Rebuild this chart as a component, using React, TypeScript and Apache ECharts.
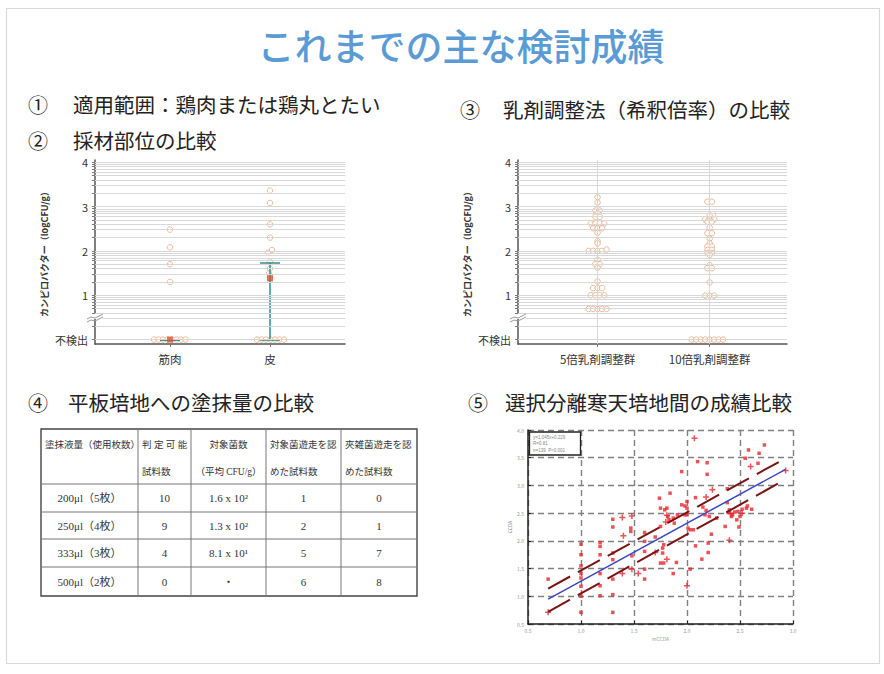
import React, { useEffect, useRef } from "react";
import * as echarts from "echarts";

// ---------- texts ----------
const titleText = "これまでの主な検討成績";
const headingNumbers = ["①", "②", "③", "④", "⑤"];
const headingTexts = [
  "適用範囲：鶏肉または鶏丸とたい",
  "採材部位の比較",
  "乳剤調整法（希釈倍率）の比較",
  "平板培地への塗抹量の比較",
  "選択分離寒天培地間の成績比較",
];
const yAxisName = "カンピロバクター（logCFU/g）";
const notDetectedLabel = "不検出";
const yTickValues = [0, 1, 2, 3, 4];
// minor (log) grid levels within one decade
const minorGridLevels = [0, 0.301, 0.477, 0.602, 0.699, 0.778, 0.845, 0.903, 0.954];

// ---------- ② 採材部位の比較 ----------
const siteCategories = ["筋肉", "皮"];
const musclePoints: number[][] = [
  [1, 2.48], [1, 2.08], [1, 1.7], [1, 1.3],
  [0.84, 0], [0.885, 0], [0.93, 0], [0.975, 0], [1.02, 0], [1.065, 0], [1.11, 0], [1.155, 0],
];
const skinPoints: number[][] = [
  [2, 3.36], [2, 3.08], [2, 2.6], [2, 2.3], [2.02, 2.02], [1.98, 1.96], [2, 1.76], [2, 1.6],
  [1.99, 1.49], [2, 1.43], [2, 1.39],
  [1.87, 0], [1.915, 0], [1.96, 0], [2.005, 0], [2.05, 0], [2.095, 0], [2.14, 0],
];
const siteMeans: number[][] = [[1, 0], [2, 1.38]];
// [x, low, high]
const siteErrors: number[][] = [[1, 0, 0], [2, 0, 1.74]];

// ---------- ③ 乳剤調整法 ----------
const dilutionCategories = ["5倍乳剤調整群", "10倍乳剤調整群"];
const fiveFoldPoints: number[][] = [
  [1, 3.21], [1, 3.09],
  [0.98, 2.91], [1.02, 2.91], [1.0, 2.85],
  [0.98, 2.77], [1.02, 2.77],
  [0.94, 2.62], [0.98, 2.62], [1.02, 2.62], [1.06, 2.62],
  [0.96, 2.51], [1.0, 2.51], [1.04, 2.51],
  [1, 2.41], [1, 2.22], [1, 2.17],
  [0.92, 2.0], [0.96, 2.0], [1.0, 2.0], [1.04, 2.0], [1.08, 2.03],
  [1, 1.8], [0.98, 1.7], [1.02, 1.7], [1, 1.62],
  [1, 1.31],
  [0.96, 1.16], [1.0, 1.16], [1.04, 1.16],
  [0.94, 1.0], [0.98, 1.0], [1.02, 1.0], [1.06, 1.0],
  [0.92, 0.69], [0.96, 0.69], [1.0, 0.69], [1.04, 0.69], [1.08, 0.69],
];
const tenFoldPoints: number[][] = [
  [1.98, 3.11], [2.02, 3.11],
  [2.03, 2.83], [2.0, 2.79],
  [1.96, 2.71], [2.0, 2.71], [2.04, 2.71],
  [1.98, 2.66], [2.02, 2.66],
  [2, 2.53], [1.98, 2.4], [2.02, 2.4], [2, 2.28], [2, 2.17],
  [1.98, 2.1], [2.02, 2.1], [1.98, 2.02], [2.02, 2.02],
  [1.98, 1.95], [2.02, 1.95], [2, 1.91],
  [2, 1.68], [1.98, 1.61], [2.02, 1.61],
  [2, 1.29],
  [1.96, 0.99], [2.0, 0.99], [2.04, 0.99],
  [1.84, 0], [1.88, 0], [1.92, 0], [1.96, 0], [2.0, 0], [2.04, 0], [2.08, 0], [2.12, 0],
];

// ---------- ④ 塗抹量の比較 (table) ----------
const tableHeaderLine1 = ["塗抹液量（使用枚数）", "判 定 可 能", "対象菌数", "対象菌遊走を認", "夾雑菌遊走を認"];
const tableHeaderLine2 = ["", "試料数", "（平均 CFU/g）", "めた試料数", "めた試料数"];
const tableVolumes = ["200μl（5枚）", "250μl（4枚）", "333μl（3枚）", "500μl（2枚）"];
const tableJudgeable = ["10", "9", "4", "0"];
const tableMeanCfu = ["1.6 x 10²", "1.3 x 10²", "8.1 x 10¹", "・"];
const tableTargetSwarm = ["1", "2", "5", "6"];
const tableContamSwarm = ["0", "1", "7", "8"];

// ---------- ⑤ 選択分離寒天培地間の成績比較 ----------
const scatterSquares: number[][] = [
  [0.69, 1.31], [1.0, 1.94], [1.0, 1.75], [1.0, 1.55], [1.0, 1.41], [1.0, 1.33], [1.0, 1.18], [1.0, 1.0], [1.0, 0.71],
  [1.18, 1.97], [1.18, 1.9], [1.18, 1.75], [1.18, 1.41], [1.18, 1.19], [1.18, 1.01],
  [1.3, 2.39], [1.3, 2.25], [1.3, 1.78], [1.3, 1.66], [1.3, 1.31], [1.3, 1.03], [1.3, 0.71],
  [1.47, 2.23], [1.47, 2.17], [1.48, 1.73],
  [1.6, 2.15], [1.6, 1.99], [1.6, 1.81], [1.6, 1.49], [1.6, 1.31],
  [1.7, 2.07],
  [1.74, 2.77], [1.75, 2.59], [1.79, 2.56], [1.81, 2.59], [1.82, 2.44], [1.83, 2.38], [1.87, 2.41], [1.91, 2.47], [1.88, 2.32], [1.75, 2.26],
  [1.78, 1.93], [1.77, 1.87], [1.77, 1.78], [1.75, 1.6], [1.78, 1.6], [1.9, 1.61], [1.87, 1.41],
  [1.84, 2.86], [1.95, 3.25], [1.95, 2.65], [1.98, 2.63], [2.0, 2.59], [2.0, 2.71], [2.0, 2.47], [1.98, 2.47],
  [2.01, 2.23], [2.03, 2.2], [2.06, 2.2],
  [2.03, 1.49], [2.08, 1.91], [2.14, 1.67], [2.2, 1.79], [2.2, 1.96], [2.23, 2.12],
  [2.08, 2.78], [2.1, 3.43], [2.19, 3.41], [2.19, 3.2], [2.15, 2.61], [2.18, 2.55], [2.17, 2.47], [2.21, 2.44], [2.28, 2.41],
  [2.38, 2.94], [2.36, 2.26], [2.49, 2.25], [2.5, 2.44], [2.47, 2.38], [2.56, 2.59], [2.57, 2.63], [2.61, 2.57],
  [2.43, 2.47], [2.4, 2.56], [2.39, 2.51], [2.42, 2.44], [2.45, 2.52], [2.48, 2.53], [2.52, 2.57], [2.38, 2.69],
  [2.58, 3.64], [2.55, 3.49], [2.67, 3.4], [2.68, 3.58], [2.73, 3.73],
];
const scatterPluses: number[][] = [
  [0.69, 0.71], [1.39, 2.42], [1.4, 2.09], [1.39, 1.41], [1.48, 2.45], [1.48, 1.49], [1.54, 1.41],
  [1.7, 1.79], [1.81, 1.67], [1.81, 2.46], [1.8, 2.34], [2.0, 1.19], [2.07, 3.85], [2.18, 2.79],
  [2.24, 2.92], [2.4, 2.01], [2.41, 2.5], [2.52, 2.5], [2.6, 3.34], [2.93, 3.27],
];
const regressionLine: number[][] = [[0.69, 0.95], [2.93, 3.29]];
const upperBandLine: number[][] = [[0.69, 1.14], [2.93, 3.49]];
const lowerBandLine: number[][] = [[0.69, 0.72], [2.93, 3.11]];
const scatterXName = "mCCDA";
const scatterYName = "CCDA";
const scatterLegendLines = ["y=1.045x+0.229", "R=0.81", "n=139  P<0.001"];

const JP = "'Noto Sans CJK JP', 'Noto Sans', sans-serif";
const SERIF = "'Liberation Serif', 'DejaVu Serif', 'Noto Sans CJK JP', serif";

function buildGridLevels(): number[] {
  const out: number[] = [];
  for (let k = 0; k < 4; k++) minorGridLevels.forEach((m) => out.push(+(k + m).toFixed(3)));
  out.push(4);
  return out;
}

export default function App() {
  const ref = useRef<HTMLDivElement>(null);

  useEffect(() => {
    document.body.style.margin = "0";
    const chart = echarts.init(ref.current!, undefined, { renderer: "svg" });
    const gridLevels = buildGridLevels();

    const circleStyle = { color: "#ffffff", borderColor: "#eea878", borderWidth: 1 };

    const stripYAxis = (gridIndex: number) => ({
      gridIndex,
      type: "value",
      min: -0.1,
      max: 4.05,
      splitLine: { show: false },
      axisLine: { show: true, lineStyle: { color: "#555", width: 1.5 } },
      axisTick: { show: true, customValues: gridLevels, length: 3, lineStyle: { color: "#777" } },
      axisLabel: {
        customValues: yTickValues,
        formatter: (v: number) => (v === 0 ? notDetectedLabel : String(v)),
        fontSize: 11,
        color: "#333",
        margin: 7,
        fontFamily: JP,
      },
      name: yAxisName,
      nameLocation: "middle",
      nameGap: 46,
      nameRotate: 90,
      nameTextStyle: { fontSize: 9, fontWeight: "bold", color: "#333", fontFamily: JP },
    });

    const stripXAxis = (gridIndex: number, min: number, max: number, cats: string[]) => ({
      gridIndex,
      type: "value",
      min,
      max,
      splitLine: { show: false },
      axisLine: { show: true, onZero: false, lineStyle: { color: "#555", width: 1.5 } },
      axisTick: { show: true, customValues: [1, 2], length: 3, lineStyle: { color: "#777" } },
      axisLabel: {
        customValues: [1, 2],
        formatter: (v: number) => cats[Math.round(v) - 1],
        fontSize: 11.5,
        color: "#333",
        margin: 9,
        fontFamily: JP,
      },
    });

    const gridMarkLine = (extraX: number[]) => ({
      silent: true,
      symbol: "none",
      label: { show: false },
      lineStyle: { color: "#d8d8d8", width: 1, type: "solid" },
      data: [
        ...gridLevels.map((v) => ({ yAxis: v })),
        ...extraX.map((v) => ({ xAxis: v })),
      ],
    });

    const scatterAxisCommon = {
      type: "value",
      interval: 0.5,
      axisLine: { show: true, onZero: false, lineStyle: { color: "#222", width: 1.5 } },
      axisTick: { show: true, inside: true, length: 3, lineStyle: { color: "#222" } },
      axisLabel: { fontSize: 5, color: "#999", margin: 4, formatter: (v: number) => v.toFixed(1) },
      splitLine: { show: true, lineStyle: { color: "#808080", width: 1.4, type: [6, 4] } },
    };

    // table geometry (layout only)
    const colEdges = [41, 138, 191, 266, 341, 417];
    const rowEdges = [429, 484, 512, 539, 567, 596];
    const tableColumns = [tableVolumes, tableJudgeable, tableMeanCfu, tableTargetSwarm, tableContamSwarm];
    const tableGraphics: any[] = [];
    tableGraphics.push({
      type: "rect",
      shape: { x: colEdges[0], y: rowEdges[0], width: colEdges[5] - colEdges[0], height: rowEdges[5] - rowEdges[0] },
      style: { fill: "#fff", stroke: "#444", lineWidth: 1.4 },
    });
    for (let i = 1; i < colEdges.length - 1; i++) {
      tableGraphics.push({
        type: "line",
        shape: { x1: colEdges[i], y1: rowEdges[0], x2: colEdges[i], y2: rowEdges[5] },
        style: { stroke: "#777", lineWidth: 1 },
      });
    }
    for (let j = 1; j < rowEdges.length - 1; j++) {
      tableGraphics.push({
        type: "line",
        shape: { x1: colEdges[0], y1: rowEdges[j], x2: colEdges[5], y2: rowEdges[j] },
        style: { stroke: "#777", lineWidth: 1 },
      });
    }
    const headerAlign = ["left", "left", "center", "left", "left"];
    tableHeaderLine1.forEach((t, i) => {
      const align = headerAlign[i];
      const x = align === "left" ? colEdges[i] + 4 : (colEdges[i] + colEdges[i + 1]) / 2;
      tableGraphics.push({
        type: "text",
        x,
        y: 445,
        style: { text: t, fontSize: 9.5, fill: "#333", fontFamily: SERIF, align, verticalAlign: "middle" },
      });
      if (tableHeaderLine2[i]) {
        tableGraphics.push({
          type: "text",
          x,
          y: 472,
          style: { text: tableHeaderLine2[i], fontSize: 9.5, fill: "#333", fontFamily: SERIF, align, verticalAlign: "middle" },
        });
      }
    });
    tableColumns.forEach((col, i) => {
      col.forEach((t, r) => {
        tableGraphics.push({
          type: "text",
          x: (colEdges[i] + colEdges[i + 1]) / 2,
          y: (rowEdges[r + 1] + rowEdges[r + 2]) / 2,
          style: { text: t, fontSize: 11, fill: "#333", fontFamily: SERIF, align: "center", verticalAlign: "middle" },
        });
      });
    });

    const headingPos = [
      [28, 73, 104],
      [28, 73, 140],
      [460, 503, 109],
      [28, 68, 402],
      [468, 505, 402],
    ];
    const headingGraphics: any[] = [];
    headingTexts.forEach((t, i) => {
      const [nx, tx, y] = headingPos[i];
      headingGraphics.push({
        type: "text", x: nx, y,
        style: { text: headingNumbers[i], fontSize: 20, fill: "#222", fontFamily: JP, verticalAlign: "middle" },
      });
      headingGraphics.push({
        type: "text", x: tx, y,
        style: { text: t, fontSize: 20.5, fill: "#222", fontFamily: JP, verticalAlign: "middle" },
      });
    });

    const breakMark = (x: number, y: number) => [
      { type: "rect", shape: { x: x - 8, y: y - 4, width: 16, height: 5 }, style: { fill: "#fff" }, z: 100 },
      {
        type: "polyline", z: 101,
        shape: { points: [[x - 8, y + 1], [x - 4, y - 1], [x, y], [x + 4, y - 2], [x + 8, y - 4]] },
        style: { stroke: "#999", lineWidth: 1, fill: "none" },
      },
      {
        type: "polyline", z: 101,
        shape: { points: [[x - 8, y + 4], [x - 4, y + 2], [x, y + 3], [x + 4, y + 1], [x + 8, y - 1]] },
        style: { stroke: "#999", lineWidth: 1, fill: "none" },
      },
    ];

    const option: any = {
      animation: false,
      backgroundColor: "#ffffff",
      textStyle: { fontFamily: JP },
      grid: [
        { left: 95, top: 160, width: 250, height: 184 },
        { left: 518, top: 160, width: 269, height: 184 },
        { left: 528, top: 430, width: 265, height: 194 },
      ],
      xAxis: [
        stripXAxis(0, 0.25, 2.75, siteCategories),
        stripXAxis(1, 0.29, 2.69, dilutionCategories),
        {
          ...scatterAxisCommon, gridIndex: 2, min: 0.5, max: 3,
          name: scatterXName, nameLocation: "middle", nameGap: 12,
          nameTextStyle: { fontSize: 5, color: "#9a9" },
        },
      ],
      yAxis: [
        stripYAxis(0),
        stripYAxis(1),
        {
          ...scatterAxisCommon, gridIndex: 2, min: 0.5, max: 4,
          name: scatterYName, nameLocation: "middle", nameGap: 16, nameRotate: 90,
          nameTextStyle: { fontSize: 5, color: "#88a" },
        },
      ],
      series: [
        // ② strip chart
        {
          type: "scatter", xAxisIndex: 0, yAxisIndex: 0, symbol: "circle", symbolSize: 5.5,
          itemStyle: circleStyle, data: [...musclePoints, ...skinPoints], z: 3,
          markLine: gridMarkLine([]),
        },
        {
          type: "lines", coordinateSystem: "cartesian2d", xAxisIndex: 0, yAxisIndex: 0, z: 4,
          lineStyle: { color: "#2e8c8c", width: 1.5, opacity: 1 },
          data: siteErrors.flatMap(([x, lo, hi]) => [
            { coords: [[x, lo], [x, hi]] },
            { coords: [[x - 0.1, lo], [x + 0.1, lo]] },
            { coords: [[x - 0.1, hi], [x + 0.1, hi]] },
          ]),
        },
        {
          type: "scatter", xAxisIndex: 0, yAxisIndex: 0, symbol: "rect", symbolSize: 6, z: 5,
          itemStyle: { color: "#cf5a33" }, data: siteMeans,
        },
        // ③ strip chart
        {
          type: "scatter", xAxisIndex: 1, yAxisIndex: 1, symbol: "circle", symbolSize: 5.5,
          itemStyle: circleStyle, data: [...fiveFoldPoints, ...tenFoldPoints], z: 3,
          markLine: gridMarkLine([1, 2]),
        },
        // ⑤ scatter
        {
          type: "scatter", xAxisIndex: 2, yAxisIndex: 2, symbol: "rect", symbolSize: 3.5,
          itemStyle: { color: "#e8262a" }, data: scatterSquares, z: 3,
        },
        {
          type: "scatter", xAxisIndex: 2, yAxisIndex: 2,
          symbol: "path://M3,0H5V3H8V5H5V8H3V5H0V3H3Z", symbolSize: 6,
          itemStyle: { color: "#e8262a" }, data: scatterPluses, z: 3,
        },
        {
          type: "line", xAxisIndex: 2, yAxisIndex: 2, showSymbol: false, symbol: "none", z: 4,
          lineStyle: { color: "#7a1414", width: 2, type: [25, 9] }, data: upperBandLine,
        },
        {
          type: "line", xAxisIndex: 2, yAxisIndex: 2, showSymbol: false, symbol: "none", z: 4,
          lineStyle: { color: "#7a1414", width: 2, type: [25, 9] }, data: lowerBandLine,
        },
        {
          type: "line", xAxisIndex: 2, yAxisIndex: 2, showSymbol: false, symbol: "none", z: 5,
          lineStyle: { color: "#3a46c0", width: 1.5 }, data: regressionLine,
        },
      ],
      graphic: [
        {
          type: "rect", z: -10, silent: true,
          shape: { x: 6.5, y: 8.5, width: 873, height: 655 },
          style: { fill: "none", stroke: "#dadada", lineWidth: 1.2 },
        },
        {
          type: "text", x: 461, y: 45,
          style: { text: titleText, fontSize: 37, fontWeight: 500, fill: "#5b9bd5", fontFamily: JP, align: "center", verticalAlign: "middle" },
        },
        ...headingGraphics,
        ...tableGraphics,
        ...breakMark(95, 318),
        ...breakMark(518, 318),
        {
          type: "rect", z: 50,
          shape: { x: 529.5, y: 432, width: 51, height: 23 },
          style: { fill: "#fff", stroke: "#222", lineWidth: 1.3 },
        },
        ...scatterLegendLines.map((t, i) => ({
          type: "text", z: 51, x: 533, y: 437 + i * 6.5,
          style: { text: t, fontSize: 4.5, fill: "#888", verticalAlign: "middle" },
        })),
      ],
    };

    chart.setOption(option);
    return () => chart.dispose();
  }, []);

  return (
    <div
      ref={ref}
      style={{ position: "absolute", left: 0, top: 0, width: 884, height: 674, background: "#fff" }}
    />
  );
}
